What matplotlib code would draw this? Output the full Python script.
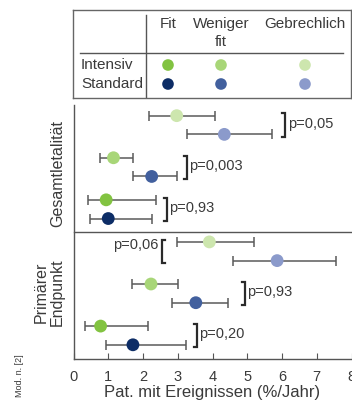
import numpy as np
import matplotlib.pyplot as plt

plt.rcParams['font.family'] = ['Liberation Sans', 'DejaVu Sans']

# data: rate of patients with events (%/year), per frailty group
groups = ["Fit", "Weniger", "Gebrechlich"]
arms = ["Intensiv", "Standard"]
col_intensiv = ["#82c341", "#a8d678", "#cde6ae"]
col_standard = ["#0d2d66", "#42609e", "#8b9acb"]

# order inside each panel: Gebrechlich, Weniger fit, Fit (top to bottom)
mort_int = [2.97, 1.15, 0.94]
mort_int_lo = [2.16, 0.76, 0.43]
mort_int_hi = [4.06, 1.72, 2.38]
mort_std = [4.34, 2.25, 1.00]
mort_std_lo = [3.28, 1.72, 0.48]
mort_std_hi = [5.71, 2.97, 2.27]
mort_p = ["p=0,05", "p=0,003", "p=0,93"]

prim_int = [3.91, 2.23, 0.78]
prim_int_lo = [2.97, 1.69, 0.33]
prim_int_hi = [5.20, 3.02, 2.14]
prim_std = [5.86, 3.52, 1.71]
prim_std_lo = [4.58, 2.83, 0.94]
prim_std_hi = [7.54, 4.46, 3.23]
prim_p = ["p=0,06", "p=0,93", "p=0,20"]

xticks = [0, 1, 2, 3, 4, 5, 6, 7, 8]

txt = "#3a3a3a"
W, H = 352, 405
fig = plt.figure(figsize=(W / 100, H / 100), dpi=100)

ax = fig.add_axes([73.5 / W, 1 - 359 / H, 278 / W, 254 / H])
gap = 2.25
order = [2, 1, 0]  # color index for rows top to bottom


def panel(k0, vi, vi_lo, vi_hi, vs, vs_lo, vs_hi, pv, bx, left_side):
    for r in range(3):
        c = (k0 + r) * gap
        ci = order[r]
        for y, v, lo, hi, col in [(c - 0.5, vi[r], vi_lo[r], vi_hi[r], col_intensiv[ci]),
                                  (c + 0.5, vs[r], vs_lo[r], vs_hi[r], col_standard[ci])]:
            ax.errorbar(v, y, xerr=[[v - lo], [hi - v]], fmt='none', ecolor="#5a5a5a",
                        elinewidth=1.1, capsize=3.5, capthick=1.1, zorder=2)
            ax.scatter(v, y, s=85, color=col, edgecolor='none', zorder=3)
        x = bx[r]
        if left_side[r]:
            ax.plot([x + 0.09, x, x, x + 0.09], [c - 0.62, c - 0.62, c + 0.62, c + 0.62],
                    color="#2a2a2a", lw=1.6, solid_joinstyle='miter', clip_on=False)
            ax.text(x - 0.1, c - 0.35, pv[r], ha='right', va='center', fontsize=10.5, color=txt)
        else:
            ax.plot([x - 0.09, x, x, x - 0.09], [c - 0.62, c - 0.62, c + 0.62, c + 0.62],
                    color="#2a2a2a", lw=1.6, solid_joinstyle='miter', clip_on=False)
            ax.text(x + 0.06, c - 0.05, pv[r], ha='left', va='center', fontsize=10.5, color=txt)


panel(0, mort_int, mort_int_lo, mort_int_hi, mort_std, mort_std_lo, mort_std_hi,
      mort_p, [6.1, 3.26, 2.69], [False, False, False])
panel(3, prim_int, prim_int_lo, prim_int_hi, prim_std, prim_std_lo, prim_std_hi,
      prim_p, [2.54, 4.94, 3.55], [True, False, False])

ax.set_xlim(0, 8)
ax.set_ylim(12.51, -1.07)
ax.axhline(5.71, color="#555555", lw=1.0, xmin=0, xmax=1.02, clip_on=False)
ax.set_xticks(xticks)
ax.set_xticklabels([str(t) for t in xticks], fontsize=10.5, color=txt)
ax.set_yticks([])
ax.tick_params(axis='x', direction='in', length=4, color="#555555", pad=8)
for s in ['top', 'right']:
    ax.spines[s].set_visible(False)
for s in ['left', 'bottom']:
    ax.spines[s].set_color("#555555")
    ax.spines[s].set_linewidth(1.0)
ax.set_xlabel("Pat. mit Ereignissen (%/Jahr)", fontsize=12, color=txt, labelpad=1)

fig.text(58 / W, 1 - 173.5 / H, "Gesamtletalität", rotation=90, ha='center', va='center',
         fontsize=11.5, color=txt)
fig.text(49 / W, 1 - 292 / H, "Primärer\nEndpunkt", rotation=90, ha='center', va='center',
         fontsize=11.5, color=txt, linespacing=1.1)
fig.text(20 / W, 1 - 376 / H, "Mod. n. [2]", rotation=90, ha='center', va='center',
         fontsize=6.5, color=txt)

# legend table
lg = fig.add_axes([73 / W, 1 - 98 / H, 278 / W, 88 / H])
lg.set_xlim(73, 351)
lg.set_ylim(98, 10)
lg.set_xticks([])
lg.set_yticks([])
for s in lg.spines.values():
    s.set_color("#666666")
    s.set_linewidth(1.0)
col_x = [168, 221, 305]
row_y = [65, 84]
lg.plot([146, 146], [15, 98], color="#555555", lw=1.0)
lg.plot([80, 343], [53, 53], color="#555555", lw=1.0)
for j, g in enumerate(groups):
    lg.text(col_x[j], 24, g, ha='center', va='center', fontsize=11, color=txt)
lg.text(col_x[1], 42, "fit", ha='center', va='center', fontsize=11, color=txt)
for j, arm in enumerate(arms):
    lg.text(81, row_y[j], arm, ha='left', va='center', fontsize=11, color=txt)
lg.scatter(col_x, [row_y[0]] * 3, s=70, c=col_intensiv, edgecolor='none')
lg.scatter(col_x, [row_y[1]] * 3, s=70, c=col_standard, edgecolor='none')

fig.savefig("out.png", dpi=100)
